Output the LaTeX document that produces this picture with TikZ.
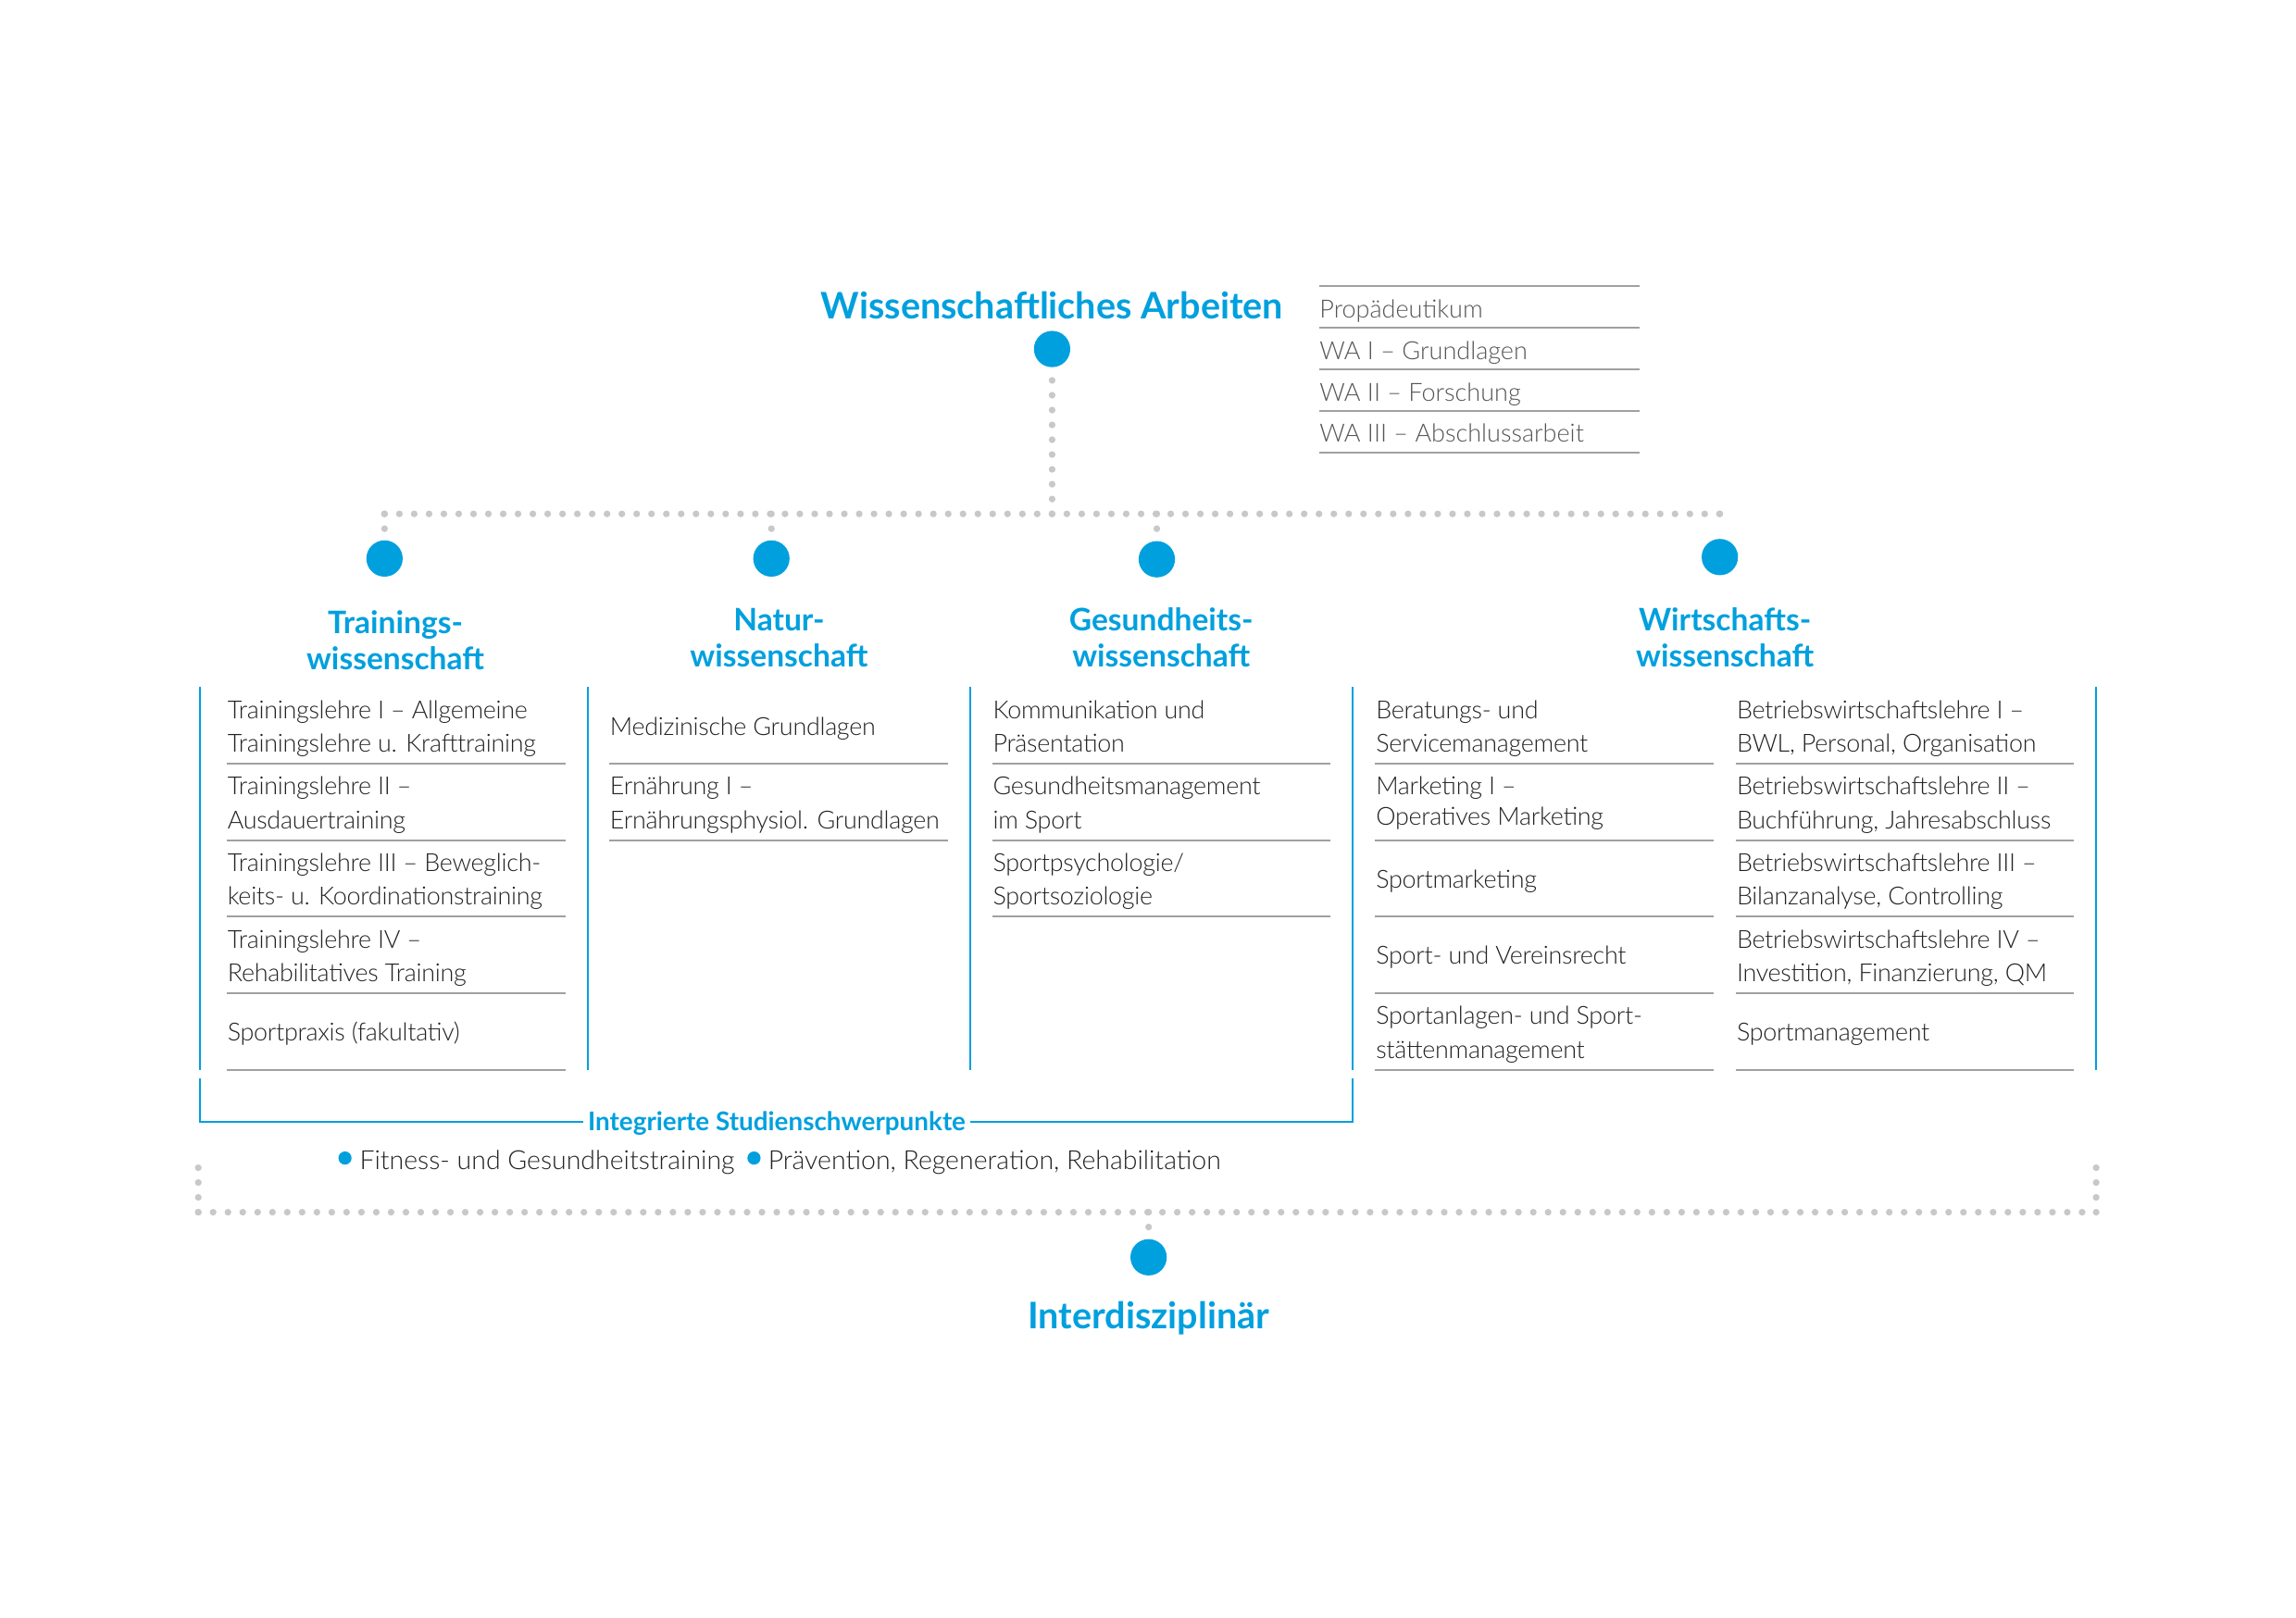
\documentclass[tikz,border=0pt]{standalone}
\usepackage{fontspec}
\setmainfont{Lato}
\newfontfamily\lightfont{Lato Light}
\newfontfamily\lightnarrow{Lato Light}[LetterSpace=-1.0]
\definecolor{brandblue}{HTML}{00A0DE}
\definecolor{dotgray}{HTML}{C8C8C8}
\definecolor{rulegray}{HTML}{A0A0A0}
\definecolor{bodytext}{HTML}{222222}
\definecolor{watext}{HTML}{555555}
\begin{document}
\begin{tikzpicture}[x=1pt,y=-1pt,
  bigdot/.style={circle,fill=brandblue,minimum size=24.8pt,inner sep=0pt},
  smalldot/.style={circle,fill=brandblue,minimum size=9pt,inner sep=0pt},
  dotline/.style={draw=dotgray,line width=4.6pt,line cap=round,dash pattern=on 0pt off 10.13pt},
  colline/.style={draw=brandblue,line width=1.3pt},
  sepline/.style={draw=rulegray,line width=1.4pt},
  titletext/.style={font=\bfseries\fontsize{25}{29}\selectfont,text=brandblue,inner sep=0pt},
  heading/.style={align=center,font=\bfseries\fontsize{21.2}{24.5}\selectfont,text=brandblue,inner sep=0pt,execute at begin node=\strut,execute at end node=\strut},
  cell/.style={anchor=west,align=left,font=\lightnarrow\fontsize{17}{23}\selectfont,text=bodytext,inner sep=0pt,execute at begin node=\strut,execute at end node=\strut},
  cellone/.style={anchor=base west,font=\lightnarrow\fontsize{17}{23}\selectfont,text=bodytext,inner sep=0pt},
  waitem/.style={anchor=base west,font=\lightfont\fontsize{17.1}{22}\selectfont,text=watext,inner sep=0pt},
  plain/.style={anchor=base west,font=\lightfont\fontsize{18}{24}\selectfont,text=bodytext,inner sep=0pt},
  integtext/.style={anchor=base,font=\bfseries\fontsize{17.6}{20}\selectfont,text=brandblue,inner xsep=3pt,inner ysep=0pt}
]
\fill[white] (0,0) rectangle (1568,1105);
\useasboundingbox (0,0) rectangle (1568,1105);

% --- top: Wissenschaftliches Arbeiten
\node[titletext,anchor=base] (wa) at (718.5,218.1) {Wissenschaftliches Arbeiten};
\node[bigdot] (wadot) at (718.5,238.4) {};

\foreach \yy in {195.4,223.8,252.2,280.6,309} \draw[sepline] (900.8,\yy) -- (1119.6,\yy);
\node[waitem] (wa1) at (901,217) {Propädeutikum};
\node[waitem] (wa2) at (901,245.4) {WA I – Grundlagen};
\node[waitem] (wa3) at (901,273.8) {WA II – Forschung};
\node[waitem] (wa4) at (901,302.2) {WA III – Abschlussarbeit};

% --- dotted tree
\coordinate (hub) at (718.5,351);
\coordinate (barL) at (262.6,351);
\coordinate (barR) at (1175,351);
\node[bigdot] (tdot) at (262.6,381.5) {};
\node[bigdot] (ndot) at (526.8,381.5) {};
\node[bigdot] (gdot) at (790,382) {};
\node[bigdot] (wdot) at (1174.5,380.5) {};
\draw[dotline] (barL) -- (barR);
\draw[dotline,shorten >=7pt] (hub) -- (wadot);
\foreach \d in {tdot,ndot,gdot,wdot} \draw[dotline,shorten >=7pt] (\d |- hub) -- (\d);

% --- headings
\node[heading] (th) at (270,441) {Trainings-\\wissenschaft};
\node[heading] (nh) at (532,439) {Natur-\\wissenschaft};
\node[heading] (gh) at (793,439) {Gesundheits-\\wissenschaft};
\node[heading] (wh) at (1178,439) {Wirtschafts-\\wissenschaft};

% --- blue column lines
\foreach \xx in {136.3,401.2,662.6,924,1431.5} \draw[colline] (\xx,469) -- (\xx,730.7);

% --- separators
\foreach \yy in {521.6,573.9,626,678.2,730.7} {
  \draw[sepline] (154.8,\yy) -- (386.4,\yy);
  \draw[sepline] (939.1,\yy) -- (1170.4,\yy);
  \draw[sepline] (1185.5,\yy) -- (1416.3,\yy);
}
\foreach \yy in {521.6,573.9} \draw[sepline] (416,\yy) -- (647.5,\yy);
\foreach \yy in {521.6,573.9,626} \draw[sepline] (677.5,\yy) -- (908.8,\yy);

% --- cells: Trainingswissenschaft
\node[cell] (c11) at (155.2,499.4) {Trainingslehre I – Allgemeine\\Trainingslehre u. Krafttraining};
\node[cell] (c12) at (155.2,551.7) {Trainingslehre II –\\Ausdauertraining};
\node[cell] (c13) at (155.2,604.0) {Trainingslehre III – Beweglich-\\keits- u. Koordinationstraining};
\node[cell] (c14) at (155.2,656.3) {Trainingslehre IV –\\Rehabilitatives Training};
\node[cellone] (c15) at (155.2,711.0) {Sportpraxis (fakultativ)};
% Naturwissenschaft
\node[cellone] (c21) at (416.4,502.2) {Medizinische Grundlagen};
\node[cell] (c22) at (416.4,551.7) {Ernährung I –\\Ernährungsphysiol. Grundlagen};
% Gesundheitswissenschaft
\node[cell] (c31) at (677.9,499.4) {Kommunikation und\\Präsentation};
\node[cell] (c32) at (677.9,551.7) {Gesundheitsmanagement\\im Sport};
\node[cell] (c33) at (677.9,604.0) {Sportpsychologie/\\Sportsoziologie};
% Wirtschaftswissenschaft left
\node[cell] (c41) at (939.5,499.4) {Beratungs- und\\Servicemanagement};
\node[cell] (c42) at (939.5,550.5) {Marketing I –\\[-2pt]Operatives Marketing};
\node[cellone] (c43) at (939.5,606.5) {Sportmarketing};
\node[cellone] (c44) at (939.5,658.8) {Sport- und Vereinsrecht};
\node[cell] (c45) at (939.5,708.6) {Sportanlagen- und Sport-\\stättenmanagement};
% Wirtschaftswissenschaft right
\node[cell] (c51) at (1185.9,499.4) {Betriebswirtschaftslehre I –\\BWL, Personal, Organisation};
\node[cell] (c52) at (1185.9,551.7) {Betriebswirtschaftslehre II –\\Buchführung, Jahresabschluss};
\node[cell] (c53) at (1185.9,604.0) {Betriebswirtschaftslehre III –\\Bilanzanalyse, Controlling};
\node[cell] (c54) at (1185.9,656.3) {Betriebswirtschaftslehre IV –\\Investition, Finanzierung, QM};
\node[cellone] (c55) at (1185.9,711.0) {Sportmanagement};

% --- integrated focus bracket
\node[integtext] (integ) at (530.5,772.3) {Integrierte Studienschwerpunkte};
\coordinate (brL) at (136.3,736.6);
\coordinate (brR) at (924,736.6);
\coordinate (brY) at (0,766.4);
\draw[colline] (brL) |- (integ.west |- brY);
\draw[colline] (brR) |- (integ.east |- brY);

\node[smalldot] (b1) at (235.6,791) {};
\node[plain] (bt1) at (245.5,799) {Fitness- und Gesundheitstraining};
\path (bt1.base east) ++(13,-8) node[smalldot] (b2) {};
\path (b2.center |- bt1.base) ++(9.5,0) node[plain] (bt2) {Prävention, Regeneration, Rehabilitation};

% --- bottom dotted frame
\coordinate (fbl) at (135.4,828);
\coordinate (fbr) at (1431.5,828);
\coordinate (fbhub) at (784.4,828);
\draw[dotline] (fbl) -- (fbr);
\draw[dotline] (fbl) -- (135.4,795);
\draw[dotline] (fbr) -- (1431.5,795);
\node[bigdot] (idot) at (784.4,858.8) {};
\draw[dotline,shorten >=7pt] (fbhub) -- (idot);
\node[titletext,anchor=base] (inter) at (784.4,907.3) {Interdisziplinär};
\end{tikzpicture}
\end{document}
